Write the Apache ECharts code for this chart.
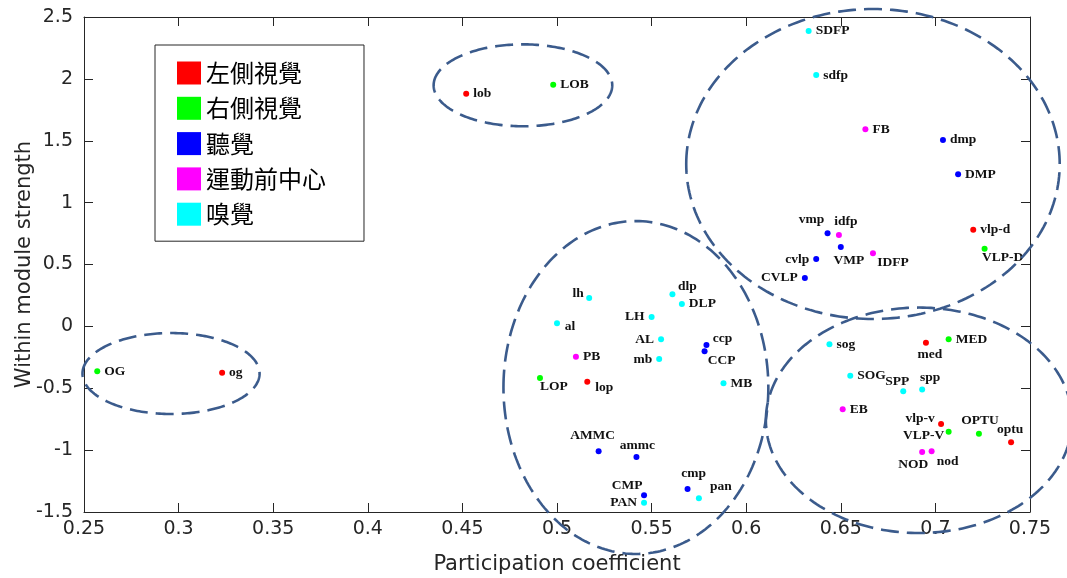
<!DOCTYPE html>
<html>
<head>
<meta charset="utf-8">
<script src="https://cdn.jsdelivr.net/npm/echarts@6/dist/echarts.min.js"></script>
<style>html,body{margin:0;padding:0;background:#fff}#c{width:1067px;height:578px}</style>
</head>
<body>
<div id="c"></div>
<script>
// ---- data ----
const categories = ['左側視覺', '右側視覺', '聽覺', '運動前中心', '嗅覺'];

const leftVisualNames = ['lob', 'vlp-d', 'lop', 'med', 'vlp-v', 'optu', 'og'];
const leftVisualX = [0.452, 0.720, 0.516, 0.695, 0.703, 0.740, 0.323];
const leftVisualY = [1.880, 0.781, -0.447, -0.132, -0.789, -0.937, -0.374];

const rightVisualNames = ['LOB', 'VLP-D', 'LOP', 'MED', 'VLP-V', 'OPTU', 'OG'];
const rightVisualX = [0.498, 0.726, 0.491, 0.707, 0.707, 0.723, 0.257];
const rightVisualY = [1.953, 0.628, -0.417, -0.105, -0.851, -0.867, -0.363];

const auditoryNames = ['dmp', 'DMP', 'vmp', 'VMP', 'cvlp', 'CVLP', 'ccp', 'CCP', 'AMMC', 'ammc', 'CMP', 'cmp'];
const auditoryX = [0.704, 0.712, 0.643, 0.650, 0.637, 0.631, 0.579, 0.578, 0.522, 0.542, 0.546, 0.569];
const auditoryY = [1.506, 1.229, 0.752, 0.641, 0.544, 0.391, -0.150, -0.202, -1.010, -1.056, -1.365, -1.314];

const premotorNames = ['FB', 'idfp', 'IDFP', 'PB', 'EB', 'NOD', 'nod'];
const premotorX = [0.663, 0.649, 0.667, 0.510, 0.651, 0.693, 0.698];
const premotorY = [1.593, 0.738, 0.590, -0.245, -0.670, -1.015, -1.010];

const olfactoryNames = ['SDFP', 'sdfp', 'dlp', 'DLP', 'lh', 'al', 'LH', 'AL', 'mb', 'MB', 'sog', 'SOG', 'SPP', 'spp', 'PAN', 'pan'];
const olfactoryX = [0.633, 0.637, 0.561, 0.566, 0.517, 0.500, 0.550, 0.555, 0.554, 0.588, 0.644, 0.655, 0.683, 0.693, 0.546, 0.575];
const olfactoryY = [2.387, 2.031, 0.259, 0.181, 0.229, 0.025, 0.076, -0.105, -0.264, -0.460, -0.145, -0.398, -0.525, -0.511, -1.425, -1.389];

// cluster ellipses (data units): centre x, centre y, radius x, radius y
const ellipseCx = [0.296, 0.482, 0.667, 0.5417, 0.6913];
const ellipseCy = [-0.381, 1.948, 1.312, -0.494, -0.759];
const ellipseRx = [0.0468, 0.0472, 0.0987, 0.0700, 0.0809];
const ellipseRy = [0.327, 0.331, 1.2525, 1.345, 0.911];

const xTicks = { min: 0.25, max: 0.75, step: 0.05 };
const yTicks = { min: -1.5, max: 2.5, step: 0.5 };

// ---- styling ----
const colors = ['#ff0000', '#00ff00', '#0000ff', '#ff00ff', '#00ffff'];
const labelPlace = {
  'LH': 'left', 'AL': 'left', 'mb': 'left', 'PAN': 'left', 'cvlp': 'left', 'CVLP': 'left',
  'al': [13, 3], 'lh': [-11, -5], 'dlp': [15, -8], 'ccp': [16, -6], 'CCP': [17, 9],
  'LOP': [14, 9], 'lop': [17, 6], 'med': [4, 12], 'SPP': [-6, -10], 'spp': [8, -12],
  'vlp-v': [-21, -5], 'VLP-V': [-25, 4], 'OPTU': [1, -13], 'optu': [-1, -13],
  'NOD': [-9, 13], 'nod': [16, 10], 'AMMC': [-6, -16], 'ammc': [1, -12],
  'CMP': [-17, -10], 'cmp': [6, -15], 'pan': [22, -12],
  'vmp': [-16, -14], 'idfp': [7, -14], 'VMP': [8, 13], 'IDFP': [20, 9], 'VLP-D': [18, 9]
};
function labelFor(n) {
  const p = labelPlace[n];
  if (!p) return { position: 'right', distance: 4 };
  if (p === 'left') return { position: 'left', distance: 4 };
  return { position: 'inside', offset: p };
}
function makeData(names, xs, ys) {
  return names.map((n, i) => ({ name: n, value: [xs[i], ys[i]], label: labelFor(n) }));
}
const groups = [
  [leftVisualNames, leftVisualX, leftVisualY],
  [rightVisualNames, rightVisualX, rightVisualY],
  [auditoryNames, auditoryX, auditoryY],
  [premotorNames, premotorX, premotorY],
  [olfactoryNames, olfactoryX, olfactoryY]
];
const axisColor = '#262626';
const tickFont = { fontFamily: 'DejaVu Sans', fontSize: 19, color: axisColor };

const scatterSeries = groups.map((g, k) => ({
  type: 'scatter',
  name: categories[k],
  symbol: 'circle',
  symbolSize: 6,
  itemStyle: { color: colors[k], opacity: 1 },
  label: {
    show: true, formatter: '{b}', fontFamily: 'Liberation Serif', fontWeight: 'bold',
    fontSize: 13.5, color: '#111'
  },
  emphasis: { disabled: true },
  z: 3,
  data: makeData(g[0], g[1], g[2])
}));

const ellipseData = ellipseCx.map((c, i) => [c, ellipseCy[i], ellipseRx[i], ellipseRy[i]]);

function renderEllipse(params, api) {
  const c = api.coord([api.value(0), api.value(1)]);
  const s = api.size([api.value(2), api.value(3)]);
  const pts = [];
  const N = 240;
  for (let i = 0; i <= N; i++) {
    const t = Math.PI + i / N * 2 * Math.PI;
    pts.push([c[0] + s[0] * Math.cos(t), c[1] + s[1] * Math.sin(t)]);
  }
  return {
    type: 'polyline',
    shape: { points: pts },
    style: { stroke: '#3b5b8c', lineWidth: 2.6, lineDash: [18, 8], fill: null }
  };
}

const chart = echarts.init(document.getElementById('c'), null, { renderer: 'canvas' });
chart.setOption({
  animation: false,
  backgroundColor: '#fff',
  grid: { left: 84, right: 37, top: 17, bottom: 66, containLabel: false, outerBoundsMode: 'none' },
  legend: {
    orient: 'vertical', left: 155, top: 45,
    data: categories, icon: 'rect', itemWidth: 24, itemHeight: 23, itemGap: 11.3,
    padding: [16, 38, 15, 22], borderColor: axisColor, borderWidth: 1, backgroundColor: '#fff',
    selectedMode: false,
    textStyle: { fontFamily: 'Noto Sans CJK TC', fontSize: 24, lineHeight: 23, color: '#000' }
  },
  xAxis: [{
    type: 'value', min: xTicks.min, max: xTicks.max, interval: xTicks.step,
    name: 'Participation coefficient', nameLocation: 'middle', nameGap: 42, nameMoveOverlap: false,
    nameTextStyle: { fontFamily: 'DejaVu Sans', fontSize: 21, color: axisColor },
    axisLine: { show: true, onZero: false, lineStyle: { color: axisColor, width: 1 } },
    axisTick: { show: true, inside: true, length: 9, lineStyle: { color: axisColor } },
    axisLabel: Object.assign({ margin: 8, formatter: v => String(+v.toFixed(2)) }, tickFont),
    splitLine: { show: false }
  }, {
    type: 'value', position: 'top', min: xTicks.min, max: xTicks.max, interval: xTicks.step,
    axisLine: { show: true, onZero: false, lineStyle: { color: axisColor, width: 1 } },
    axisTick: { show: true, inside: true, length: 9, lineStyle: { color: axisColor } },
    axisLabel: { show: false }, splitLine: { show: false }
  }],
  yAxis: [{
    type: 'value', min: yTicks.min, max: yTicks.max, interval: yTicks.step,
    name: 'Within module strength', nameLocation: 'middle', nameGap: 49, nameRotate: 90,
    nameMoveOverlap: false,
    nameTextStyle: { fontFamily: 'DejaVu Sans', fontSize: 21, color: axisColor },
    axisLine: { show: true, onZero: false, lineStyle: { color: axisColor, width: 1 } },
    axisTick: { show: true, inside: true, length: 9, lineStyle: { color: axisColor } },
    axisLabel: Object.assign({ margin: 11, formatter: v => String(+v.toFixed(2)) }, tickFont),
    splitLine: { show: false }
  }, {
    type: 'value', position: 'right', min: yTicks.min, max: yTicks.max, interval: yTicks.step,
    axisLine: { show: true, onZero: false, lineStyle: { color: axisColor, width: 1 } },
    axisTick: { show: true, inside: true, length: 9, lineStyle: { color: axisColor } },
    axisLabel: { show: false }, splitLine: { show: false }
  }],
  series: scatterSeries.concat([{
    type: 'custom',
    name: 'clusters',
    renderItem: renderEllipse,
    clip: false,
    silent: true,
    z: 4,
    data: ellipseData
  }])
});
</script>
</body>
</html>
